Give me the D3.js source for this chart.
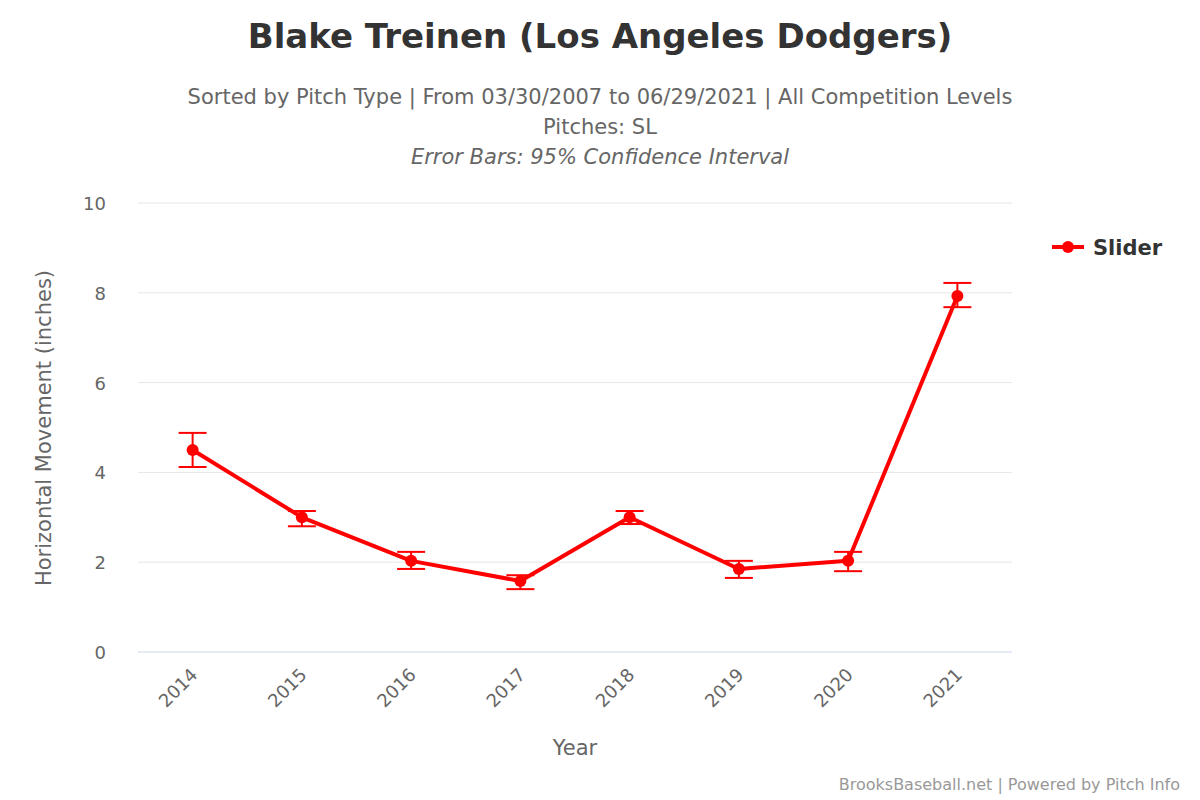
<!DOCTYPE html>
<html><head><meta charset="utf-8">
<script src="https://cdn.jsdelivr.net/npm/d3@7"></script>
<style>body{margin:0;background:#fff}text{font-family:"DejaVu Sans",sans-serif}</style>
</head><body>
<svg id="c" width="1200" height="800"></svg>
<script>
// data
const years = ["2014","2015","2016","2017","2018","2019","2020","2021"];
const movement = [4.5, 3.0, 2.03, 1.58, 3.0, 1.85, 2.03, 7.93];
const ciLow = [4.12, 2.8, 1.85, 1.4, 2.85, 1.65, 1.8, 7.68];
const ciHigh = [4.88, 3.14, 2.23, 1.71, 3.14, 2.03, 2.23, 8.22];
const yTicks = [0, 2, 4, 6, 8, 10];

const svg = d3.select("#c");
const x = d3.scaleBand().domain(years).range([138, 1012]);
const y = d3.scaleLinear().domain([0, 10]).range([652, 203]);
const cx = d => x(d) + x.bandwidth() / 2;
const red = "#ff0000";

// gridlines
svg.append("g").selectAll("line").data(yTicks).join("line")
  .attr("x1", 138).attr("x2", 1012).attr("y1", d => y(d)).attr("y2", d => y(d))
  .attr("stroke", d => d === 0 ? "#ccd6eb" : "#e6e6e6").attr("stroke-width", 1);

// axes labels
svg.append("g").selectAll("text").data(yTicks).join("text")
  .attr("x", 106).attr("y", d => y(d) + 7).attr("text-anchor", "end")
  .attr("font-size", 18).attr("fill", "#666").text(d => d);

svg.append("g").selectAll("text").data(years).join("text")
  .attr("transform", d => `translate(${cx(d) + 6},${676}) rotate(-45)`)
  .attr("text-anchor", "end").attr("font-size", 18).attr("fill", "#666").text(d => d);

svg.append("text").attr("x", 575).attr("y", 755).attr("text-anchor", "middle")
  .attr("font-size", 21).attr("fill", "#666").text("Year");
svg.append("text").attr("transform", "translate(51,428) rotate(-90)").attr("text-anchor", "middle")
  .attr("font-size", 21).attr("fill", "#666").text("Horizontal Movement (inches)");

// titles
svg.append("text").attr("x", 600).attr("y", 48).attr("text-anchor", "middle")
  .attr("font-size", 34).attr("font-weight", "bold").attr("fill", "#333").text("Blake Treinen (Los Angeles Dodgers)");
svg.append("text").attr("x", 600).attr("y", 104).attr("text-anchor", "middle")
  .attr("font-size", 21).attr("fill", "#666").text("Sorted by Pitch Type | From 03/30/2007 to 06/29/2021 | All Competition Levels");
svg.append("text").attr("x", 600).attr("y", 134).attr("text-anchor", "middle")
  .attr("font-size", 21).attr("fill", "#666").text("Pitches: SL");
svg.append("text").attr("x", 600).attr("y", 164).attr("text-anchor", "middle")
  .attr("font-size", 21).attr("font-style", "italic").attr("fill", "#666").text("Error Bars: 95% Confidence Interval");

// error bars
const eb = svg.append("g").attr("stroke", red).attr("stroke-width", 2);
years.forEach((yr, i) => {
  const c = cx(yr);
  eb.append("line").attr("x1", c).attr("x2", c).attr("y1", y(ciLow[i])).attr("y2", y(ciHigh[i]));
  eb.append("line").attr("x1", c - 14).attr("x2", c + 14).attr("y1", y(ciLow[i])).attr("y2", y(ciLow[i]));
  eb.append("line").attr("x1", c - 14).attr("x2", c + 14).attr("y1", y(ciHigh[i])).attr("y2", y(ciHigh[i]));
});

// line + points
svg.append("path").datum(movement)
  .attr("d", d3.line().x((d, i) => cx(years[i])).y(d => y(d)))
  .attr("fill", "none").attr("stroke", red).attr("stroke-width", 4).attr("stroke-linejoin", "round");
svg.append("g").selectAll("circle").data(movement).join("circle")
  .attr("cx", (d, i) => cx(years[i])).attr("cy", d => y(d)).attr("r", 6).attr("fill", red);

// legend
svg.append("line").attr("x1", 1052).attr("x2", 1084).attr("y1", 247).attr("y2", 247)
  .attr("stroke", red).attr("stroke-width", 4);
svg.append("circle").attr("cx", 1068).attr("cy", 247).attr("r", 6).attr("fill", red);
svg.append("text").attr("x", 1093).attr("y", 255).attr("font-size", 21).attr("font-weight", "bold")
  .attr("fill", "#333").text("Slider");

// credits
svg.append("text").attr("x", 1180).attr("y", 790).attr("text-anchor", "end")
  .attr("font-size", 16).attr("fill", "#999").text("BrooksBaseball.net | Powered by Pitch Info");
</script>
</body></html>
